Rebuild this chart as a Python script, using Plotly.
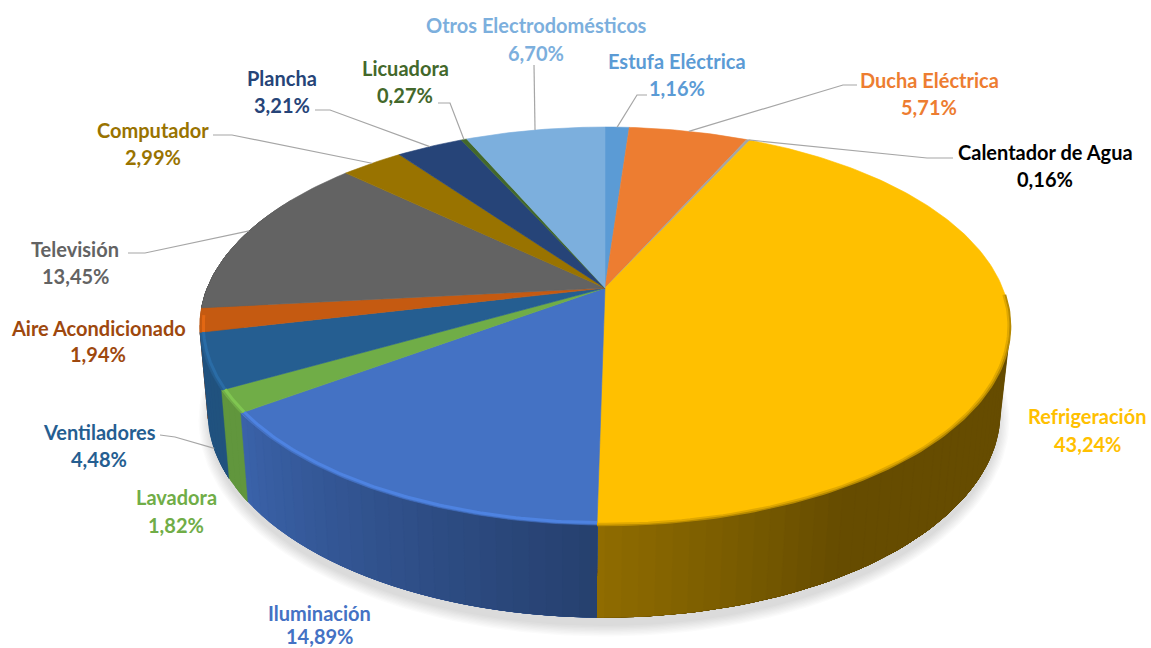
import numpy as np
import plotly.graph_objects as go

# Consumption shares, clockwise from twelve o'clock
categories = ["Estufa Eléctrica", "Ducha Eléctrica", "Calentador de Agua", "Refrigeración",
              "Iluminación", "Lavadora", "Ventiladores", "Aire Acondicionado", "Televisión",
              "Computador", "Plancha", "Licuadora", "Otros Electrodomésticos"]
shares = [1.16, 5.71, 0.16, 43.24, 14.89, 1.82, 4.48, 1.94, 13.45, 2.99, 3.21, 0.27, 6.70]
slice_colors = ["#5B9BD5", "#ED7D31", "#A5A5A5", "#FFC000", "#4472C4", "#70AD47", "#255E91",
                "#C55A11", "#636363", "#997300", "#264478", "#43682B", "#7CAFDD"]
text_colors = ["#5B9BD5", "#ED7D31", "#000000", "#FFC000", "#4472C4", "#70AD47", "#255E91",
               "#9E480E", "#636363", "#997300", "#264478", "#43682B", "#7CAFDD"]

# Label centres: x, first-line y, second-line y
label_pos = [(677, 61, 88), (929, 80, 107), (1045, 152, 179), (1087, 416, 444),
             (319, 613, 636), (176, 497, 525), (99, 432, 459), (98, 328, 354),
             (75, 249, 276), (153, 130, 157), (282, 78, 105), (405, 68, 95), (536, 25, 53)]
# Leader line points on the label side, None where a slice has no leader
leader_start = [[(647, 95), (637, 95)], [(857, 85), (843, 85)], [(953, 158), (927, 158)], None,
                None, None, [(160, 435), (175, 437)], None,
                [(128, 253), (145, 253)], [(213, 135), (232, 135)], [(315, 110), (330, 110)],
                [(438, 103), (450, 103)], [(534, 65)]]

# Perspective projection of the disc: top face and bottom rim
K = 0.191
TOP = dict(cx=605.0, cy=288.0, a=397.6, b=191.7)
BOT = dict(cx=604.0, cy=373.0, a=388.7, b=197.5)


def project(face, theta, r=1.0):
    """Map a clockwise angle (degrees from the top) and a radius onto the canvas."""
    t = np.radians(theta)
    u, v = r * np.sin(t), -r * np.cos(t)
    d = 1 - K * v
    return face["cx"] + face["a"] * u / d, face["cy"] + face["b"] * v / d


def scale(color, f):
    rgb = [int(color[i:i + 2], 16) for i in (1, 3, 5)]
    return "rgb({},{},{})".format(*[min(255, int(c * f)) for c in rgb])


def side_shade(theta):
    return float(np.interp(theta, [60, 150, 180, 235, 300], [0.40, 0.40, 0.56, 0.87, 0.90]))


def poly(xs, ys, color, fig, width=0.6):
    fig.add_trace(go.Scatter(x=xs, y=ys, mode="lines", fill="toself", fillcolor=color,
                             line=dict(color=color, width=width), hoverinfo="skip"))


def wall_piece(a0, a1, color, fig):
    arc = np.linspace(a0, a1, max(2, int(abs(a1 - a0) / 1.5) + 2))
    xt, yt = project(TOP, arc)
    xb, yb = project(BOT, arc[::-1])
    poly(np.r_[xt, xb, xt[0]], np.r_[yt, yb, yt[0]], color, fig, width=0.4)


total = sum(shares)
edges = np.concatenate([[0], np.cumsum(shares)]) / total * 360
mids = (edges[:-1] + edges[1:]) / 2

fig = go.Figure()

# Soft ground shadow
for i in range(9):
    grow = 1 + i * 1.3
    t = np.linspace(0, 2 * np.pi, 181)
    fig.add_trace(go.Scatter(x=604 + (394 + grow) * np.cos(t), y=420 + (205 + grow) * np.sin(t),
                             mode="lines", fill="toself", fillcolor="rgba(70,70,90,0.022)",
                             line=dict(width=0), hoverinfo="skip"))

# Outer wall, painted from the far sides towards the front of the pie.
# Each shading step overpaints the rest of its slice, so no seams show between steps.
for i in sorted(range(len(shares)), key=lambda n: -abs(mids[n] - 180)):
    lo, hi = max(edges[i], 92), min(edges[i + 1], 300)
    if hi <= lo:
        continue
    steps = np.arange(lo, hi, 2.0)
    if mids[i] <= 180:
        for s in steps:
            wall_piece(s, hi, scale(slice_colors[i], side_shade(s + 1)), fig)
    else:
        for s in steps[::-1]:
            wall_piece(lo, min(s + 2.0, hi), scale(slice_colors[i], side_shade(s + 1)), fig)

# Top face
for i, color in enumerate(slice_colors):
    arc = np.linspace(edges[i], edges[i + 1], max(3, int(shares[i] * 4)))
    x, y = project(TOP, arc)
    poly(np.r_[TOP["cx"], x, TOP["cx"]], np.r_[TOP["cy"], y, TOP["cy"]], color, fig)

# Bevelled rim along the near edge of the top face
for i, color in enumerate(slice_colors):
    lo, hi = max(edges[i], 92), min(edges[i + 1], 262)
    if hi <= lo:
        continue
    arc = np.linspace(lo, hi, 90)
    if color == "#FFC000":
        bands = [(1.0, 2.5, scale(color, 0.72)), (0.996, 2.0, scale(color, 0.88))]
    else:
        bands = [(0.992, 3, scale(color, 1.15))]
    for r, w, c in bands:
        x, y = project(TOP, arc, r)
        fig.add_trace(go.Scatter(x=x, y=y, mode="lines", line=dict(color=c, width=w), hoverinfo="skip"))

# Leader lines, ending where each slice's mid-angle meets the pie
for i, pts in enumerate(leader_start):
    if pts is None:
        continue
    end = project(BOT, mids[i]) if categories[i] == "Ventiladores" else project(TOP, mids[i])
    xs = [p[0] for p in pts] + [float(end[0])]
    ys = [p[1] for p in pts] + [float(end[1])]
    fig.add_trace(go.Scatter(x=xs, y=ys, mode="lines", line=dict(color="#A6A6A6", width=1.2),
                             hoverinfo="skip"))

# Two-line labels: name above, share below
for name, value, color, (lx, y1, y2) in zip(categories, shares, text_colors, label_pos):
    for text, ly in ((name, y1), (f"{value:.2f}".replace(".", ",") + "%", y2)):
        fig.add_annotation(x=lx, y=ly, text=f"<b>{text}</b>", showarrow=False, xanchor="center",
                           yanchor="middle", font=dict(family="Lato", size=20, color=color))

fig.update_layout(
    width=1151, height=648, margin=dict(l=0, r=0, t=0, b=0), showlegend=False,
    paper_bgcolor="white", plot_bgcolor="white",
    xaxis=dict(range=[0, 1151], visible=False, fixedrange=True),
    yaxis=dict(range=[648, 0], visible=False, fixedrange=True),
)
fig.write_html("out.html", config=dict(displayModeBar=False))
